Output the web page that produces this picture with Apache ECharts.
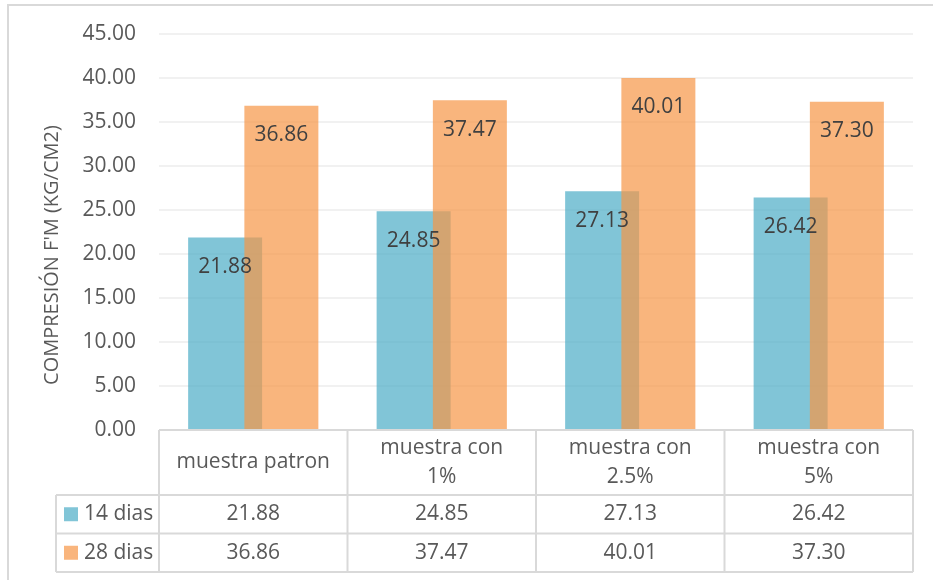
<!DOCTYPE html>
<html>
<head>
<meta charset="utf-8">
<script src="https://cdn.jsdelivr.net/npm/echarts@6/dist/echarts.min.js"></script>
<style>
  html, body { margin: 0; padding: 0; background: #fff; }
  #app { width: 933px; height: 580px; }
</style>
</head>
<body>
<div id="app"></div>
<script>
// datos
const categorias = ['muestra patron', 'muestra con\n1%', 'muestra con\n2.5%', 'muestra con\n5%'];
const series14 = [21.88, 24.85, 27.13, 26.42];
const series28 = [36.86, 37.47, 40.01, 37.30];
const nombres = ['14 dias', '28 dias'];
const colores = ['rgba(75,172,198,0.7)', 'rgba(247,150,70,0.7)'];
const tituloY = "COMPRESIÓN F'M (KG/CM2)";

const FONT = 'Open Sans';
const TXT = '#595959';
const LINE = '#D9D9D9';
const FS = 21;

const myChart = echarts.init(document.getElementById('app'));

const etiqueta = {
    show: true,
    position: 'insideTop',
    distance: 19,
    fontFamily: FONT,
    fontSize: FS,
    color: '#404040',
    formatter: p => p.value.toFixed(2)
};

myChart.setOption({
    animation: false,
    grid: { left: 159, right: 20, top: 34, bottom: 150 },
    xAxis: {
        type: 'category',
        data: categorias,
        axisLine: { show: false },
        axisTick: { show: false },
        axisLabel: { show: false }
    },
    yAxis: {
        type: 'value',
        min: 0,
        max: 45,
        interval: 5,
        axisLine: { show: false },
        axisTick: { show: false },
        axisLabel: {
            margin: 23,
            fontFamily: FONT,
            fontSize: FS,
            color: TXT,
            formatter: v => v.toFixed(2)
        },
        splitLine: { lineStyle: { color: '#EDEDED', width: 1.5 } }
    },
    series: [
        {
            name: nombres[0], type: 'bar', data: series14,
            barWidth: 74, barGap: '-24%',
            itemStyle: { color: colores[0] },
            label: etiqueta
        },
        {
            name: nombres[1], type: 'bar', data: series28,
            barWidth: 74,
            itemStyle: { color: colores[1] },
            label: etiqueta
        }
    ]
});

// tabla de datos bajo el eje
function dibujarTabla() {
    const x0 = myChart.convertToPixel({ xAxisIndex: 0 }, 0);
    const x1 = myChart.convertToPixel({ xAxisIndex: 0 }, 1);
    const paso = x1 - x0;
    const izq = x0 - paso / 2;
    const der = izq + paso * categorias.length;
    const y0 = myChart.convertToPixel({ yAxisIndex: 0 }, 0);
    const hCab = 65, hFila = 38.5;
    const yF1 = y0 + hCab, yF2 = yF1 + hFila, yFin = yF2 + hFila;
    const leyIzq = 56;
    const filas = [series14, series28];
    const els = [];
    const linea = (xa, ya, xb, yb) => els.push({
        type: 'line', shape: { x1: xa, y1: ya, x2: xb, y2: yb },
        style: { stroke: LINE, lineWidth: 2 }, z: 10
    });
    const texto = (t, x, y, align) => els.push({
        type: 'text', x: x, y: y, z: 11,
        style: { text: t, fontFamily: FONT, fontSize: FS, fill: TXT, lineHeight: 29,
                 align: align || 'center', verticalAlign: 'middle' }
    });

    // marco exterior
    els.push({ type: 'rect', shape: { x: 8, y: 5, width: 960, height: 600 },
               style: { fill: null, stroke: LINE, lineWidth: 2 }, z: 0 });

    // horizontales
    linea(izq, y0, der, y0);
    linea(leyIzq, yF1, der, yF1);
    linea(leyIzq, yF2, der, yF2);
    linea(leyIzq, yFin, der, yFin);
    // verticales
    linea(leyIzq, yF1, leyIzq, yFin);
    for (let i = 0; i <= categorias.length; i++) {
        const x = izq + paso * i;
        linea(x, y0, x, yFin);
    }
    // cabecera
    categorias.forEach((c, i) => texto(c, izq + paso * (i + 0.5), y0 + hCab / 2));
    // filas
    filas.forEach((fila, r) => {
        const yc = yF1 + hFila * (r + 0.5);
        els.push({ type: 'rect', shape: { x: 64, y: yc - 7, width: 14, height: 14 },
                   style: { fill: colores[r] }, z: 11 });
        texto(nombres[r], 84, yc, 'left');
        fila.forEach((v, i) => texto(v.toFixed(2), izq + paso * (i + 0.5), yc));
    });
    // titulo eje Y
    els.push({ type: 'text', x: 52, y: 255, rotation: Math.PI / 2, z: 11,
               style: { text: tituloY, fontFamily: FONT, fontSize: 20, fill: TXT,
                        align: 'center', verticalAlign: 'middle' } });

    myChart.setOption({ graphic: { elements: els } });
}
dibujarTabla();
</script>
</body>
</html>
